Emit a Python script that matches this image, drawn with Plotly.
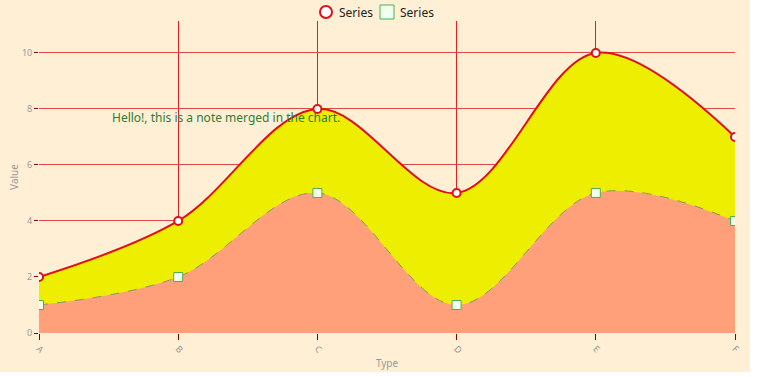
import plotly.graph_objects as go

categories = ["A", "B", "C", "D", "E", "F"]
series1 = [2, 4, 8, 5, 10, 7]
series2 = [1, 2, 5, 1, 5, 4]
y_ticks = [0, 2, 4, 6, 8, 10]
series_names = ["Series", "Series"]
note = "Hello!, this is a note merged in the chart."

fig = go.Figure()
fig.add_trace(go.Scatter(
    x=categories, y=series1, name=series_names[0], mode="lines+markers", showlegend=False,
    line=dict(color="#E0101A", width=2, shape="spline", smoothing=1.0),
    marker=dict(symbol="circle", size=8, color="white", line=dict(color="#E0101A", width=2)),
    fill="tozeroy", fillcolor="#EEEE00",
))
fig.add_trace(go.Scatter(
    x=categories, y=series2, name=series_names[1], mode="lines+markers", showlegend=False,
    line=dict(color="#7A9A6A", width=1, dash="dash", shape="spline", smoothing=1.0),
    marker=dict(symbol="square", size=9, color="#F0FFF0", line=dict(color="#4CAF50", width=1)),
    fill="tozeroy", fillcolor="#FFA07A",
))

fig.add_annotation(x=0.51, y=7.68, xref="x", yref="y", text=note, showarrow=False,
                   xanchor="left", yanchor="middle",
                   font=dict(color="#2E7D32", size=12, family="Noto Sans"))

# plot area in pixels: x 39..735, y 21..333 (figure placed at page origin)
def px(x):
    return (x - 39) / 696.0

def py(y):
    return (333 - y) / 312.0

shapes = [
    dict(type="circle", xref="paper", yref="paper", xsizemode="pixel", ysizemode="pixel",
         xanchor=px(326), yanchor=py(12), x0=-6, x1=6, y0=-6, y1=6,
         line=dict(color="#E0101A", width=2), fillcolor="white"),
    dict(type="rect", xref="paper", yref="paper", xsizemode="pixel", ysizemode="pixel",
         xanchor=px(387), yanchor=py(12), x0=-7, x1=7, y0=-7, y1=7,
         line=dict(color="#4CAF50", width=1), fillcolor="#F0FFF0"),
]
fig.add_annotation(x=px(337), y=py(12), xref="paper", yref="paper", text=series_names[0],
                   showarrow=False, xanchor="left", yanchor="middle",
                   font=dict(size=12, color="#222222"))
fig.add_annotation(x=px(398), y=py(12), xref="paper", yref="paper", text=series_names[1],
                   showarrow=False, xanchor="left", yanchor="middle",
                   font=dict(size=12, color="#222222"))

fig.update_layout(
    width=750, height=372,
    margin=dict(l=39, r=15, t=21, b=39, autoexpand=False),
    paper_bgcolor="#FFEFD5", plot_bgcolor="#FFEFD5",
    font=dict(family="Noto Sans", color="#999999", size=9),
    showlegend=False,
    shapes=shapes,
)
fig.update_xaxes(
    type="category", range=[0, 5], showgrid=True, gridcolor="#E02020", gridwidth=1,
    tickangle=45, ticks="outside", ticklen=6, tickcolor="#8B0000",
    tickfont=dict(size=9, color="#999999"),
    title=dict(text="Type", font=dict(size=10, color="#999999"), standoff=4),
    zeroline=False, showline=False,
)
fig.update_yaxes(
    range=[0, 11.14], tickvals=y_ticks, showgrid=True, gridcolor="#E04848", gridwidth=1,
    ticks="outside", ticklen=4, tickcolor="#8B0000",
    tickfont=dict(size=9, color="#999999"),
    title=dict(text="Value", font=dict(size=10, color="#999999"), standoff=1),
    zeroline=False, showline=False,
)

fig.write_html("out.html", config={"displayModeBar": False},
               post_script="document.body.style.margin='0';")
